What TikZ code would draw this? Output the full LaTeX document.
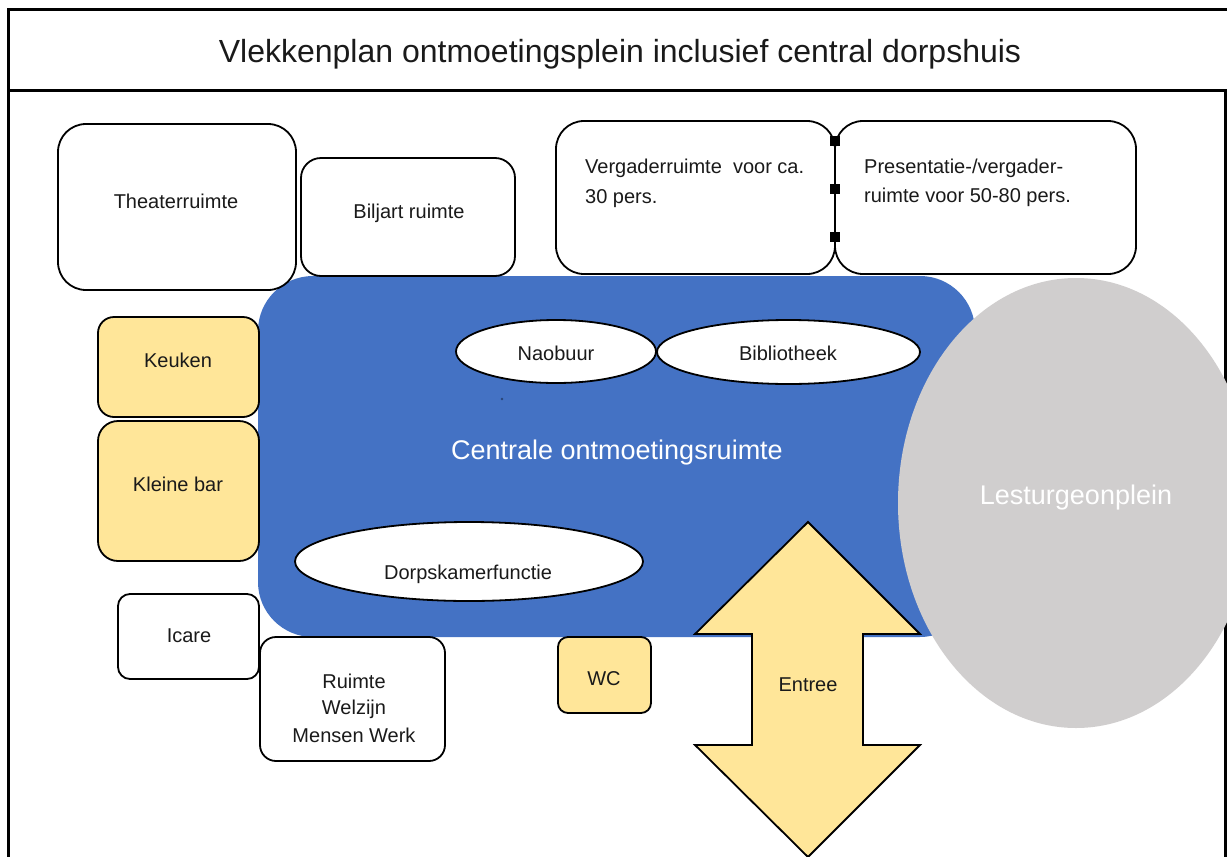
\documentclass[tikz,border=0pt]{standalone}
\usepackage{fontspec}
\setmainfont{Liberation Sans}
\usetikzlibrary{shapes.geometric}
\definecolor{blueA}{HTML}{4472C4}
\definecolor{yellowA}{HTML}{FFE699}
\definecolor{grayA}{HTML}{D0CECE}
\definecolor{inkA}{HTML}{1A1A1A}
\tikzset{
  room/.style={draw=black, line width=1.8pt, fill=white, inner sep=0pt, outer sep=0pt},
  yroom/.style={room, fill=yellowA},
  oval/.style={ellipse, draw=black, line width=1.8pt, fill=white, inner sep=0pt, outer sep=0pt},
  txt/.style={font=\fontsize{20}{24}\selectfont, text=inkA, anchor=base, inner sep=0pt},
  bigtxt/.style={font=\fontsize{27}{32}\selectfont, text=white, anchor=base, inner sep=0pt},
  hinge/.style={fill=black, minimum size=10pt, inner sep=0pt, outer sep=0pt},
}
\begin{document}
\begin{tikzpicture}[x=1pt,y=-1pt]
\useasboundingbox (0,0) rectangle (1227,857);
\clip (0,0) rectangle (1227,857);
% frame
\draw[line width=3pt, fill=white] (8,90) rectangle (1225,880);
\draw[line width=3pt] (8,9) rectangle (1245,90);
\node[font=\fontsize{32}{38}\selectfont, text=inkA, anchor=base, inner sep=0pt] (title) at (620,62) {Vlekkenplan ontmoetingsplein inclusief central dorpshuis};
% central area
\node[fill=blueA, rounded corners=55pt, minimum width=717pt, minimum height=361pt, inner sep=0pt] (central) at (616.5,456.5) {};
\fill[blueA!60!black] (502,399) circle (1.4);
% rooms
\node[room, rounded corners=28pt, minimum width=238pt, minimum height=166pt] (theater) at (177,207) {};
\node[room, rounded corners=20pt, minimum width=214pt, minimum height=118pt] (biljart) at (408,217) {};
\node[room, rounded corners=28pt, minimum width=279pt, minimum height=153pt] (verg) at (695.5,197.5) {};
\node[room, rounded corners=28pt, minimum width=301pt, minimum height=153pt] (pres) at (985.5,197.5) {};
\node[hinge] (h1) at (835,141) {};
\node[hinge] (h2) at (835,189) {};
\node[hinge] (h3) at (835,237) {};
\node[yroom, rounded corners=16pt, minimum width=161pt, minimum height=100pt] (keuken) at (178.5,367) {};
\node[yroom, rounded corners=20pt, minimum width=161pt, minimum height=140pt] (bar) at (178.5,491) {};
\node[room, rounded corners=12pt, minimum width=141pt, minimum height=85pt] (icare) at (188.5,636.5) {};
\node[room, rounded corners=16pt, minimum width=185pt, minimum height=124pt] (welzijn) at (352.5,699) {};
\node[yroom, rounded corners=10pt, minimum width=93pt, minimum height=76pt] (wc) at (604.5,675) {};
% ovals
\node[oval, minimum width=200pt, minimum height=63pt] (naobuur) at (556,351.5) {};
\node[oval, minimum width=263pt, minimum height=64pt] (biblio) at (788.5,352) {};
\node[oval, minimum width=348pt, minimum height=79pt] (dorps) at (469,561.5) {};
% entree double arrow
\draw[fill=yellowA, line width=1.8pt, line join=miter]
  (808,522) -- (920,634) -- (863,634) -- (863,745) -- (920,745) -- (808,857)
  -- (695,745) -- (752,745) -- (752,634) -- (695,634) -- cycle;
% plein
\node[ellipse, fill=grayA, minimum width=356pt, minimum height=450pt, inner sep=0pt] (plein) at (1076,503) {};
% texts
\node[txt] (tTheater) at (176,208) {Theaterruimte};
\node[txt] (tBiljart) at (409,218) {Biljart ruimte};
\node[txt, anchor=base west] (tVerg1) at (585,173) {Vergaderruimte\ \ voor ca.};
\node[txt, anchor=base west] (tVerg2) at (585,203) {30 pers.};
\node[txt, anchor=base west] (tPres1) at (864,173) {Presentatie-/vergader-};
\node[txt, anchor=base west] (tPres2) at (864,202) {ruimte voor 50-80 pers.};
\node[txt] (tNaobuur) at (556,360) {Naobuur};
\node[txt] (tBiblio) at (788,360) {Bibliotheek};
\node[bigtxt] (tCentral) at (617,459) {Centrale ontmoetingsruimte};
\node[txt] (tKeuken) at (178,367) {Keuken};
\node[txt] (tBar) at (178,491) {Kleine bar};
\node[txt] (tDorps) at (468,579) {Dorpskamerfunctie};
\node[txt] (tIcare) at (189,642) {Icare};
\node[txt] (tW1) at (354,688) {Ruimte};
\node[txt] (tW2) at (354,714) {Welzijn};
\node[txt] (tW3) at (354,742) {Mensen Werk};
\node[txt] (tWC) at (604,685) {WC};
\node[txt] (tEntree) at (808,691) {Entree};
\node[bigtxt] (tPlein) at (1076,504) {Lesturgeonplein};
\end{tikzpicture}
\end{document}
